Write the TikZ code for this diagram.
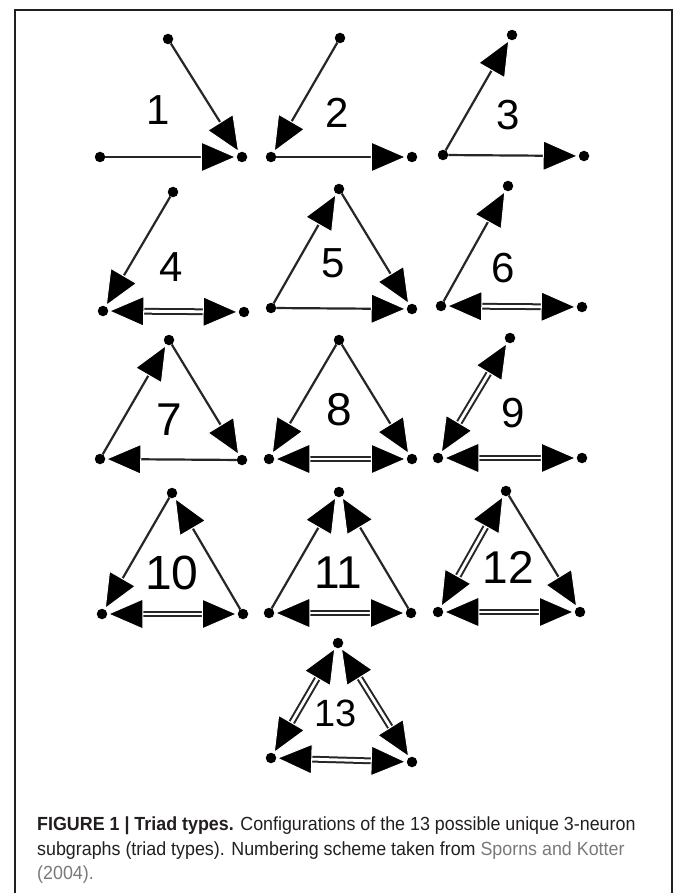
\documentclass[tikz,border=0pt]{standalone}
\usepackage{fontspec}
\usetikzlibrary{arrows.meta}
\setmainfont{Liberation Sans}
\newfontfamily\numfont{Liberation Sans}
\newfontfamily\capfont[FakeStretch=0.94]{Liberation Sans}
\definecolor{framecol}{HTML}{231F20}
\definecolor{linkgray}{HTML}{7A7A7A}
\tikzset{
  dotnode/.style={circle, fill=black, inner sep=0pt, minimum size=10.5pt, outer sep=0pt},
  lbl/.style={inner sep=0pt, text=black},
  >={Triangle[length=36pt,width=31pt,color=white,fill=black,line width=1pt]},
  sgl/.style={draw=black!85, line width=2.2pt},
  dblline/.style={draw=black!85, line width=2pt, double=white, double distance=2.8pt, shorten <=20pt, shorten >=20pt},
  tiponly/.style={draw=white, line width=0.2pt, <->},
  captext/.style={inner sep=0pt, anchor=base west, text=framecol, font=\capfont\fontsize{19}{23}\selectfont}
}
\newcommand{\triad}[7]{%
  \node[dotnode] (#1t) at (#2) {};
  \node[dotnode] (#1l) at (#3) {};
  \node[dotnode] (#1r) at (#4) {};
  \node[lbl, font=\numfont\fontsize{#7}{#7}\selectfont] (#1n) at (#5) {#6};
}
\newcommand{\one}[2]{\draw[sgl, ->] (#1) -- (#2);}
\newcommand{\two}[2]{\draw[dblline] (#1) -- (#2); \draw[tiponly] (#1) -- (#2);}
\begin{document}
\begin{tikzpicture}[x=1pt, y=-1pt]
\useasboundingbox (0,0) rectangle (673,893);
\fill[white] (0,0) rectangle (673,893);
\draw[line width=2pt, framecol] (15,894) -- (15,10) -- (672,10) -- (672,894);

% 1
\triad{a}{168,39}{100,157}{242,157}{158,110}{1}{42}
\one{at}{ar} \one{al}{ar}
% 2
\triad{b}{340,38}{271,157}{412,157}{337,113}{2}{42}
\one{bt}{bl} \one{bl}{br}
% 3
\triad{c}{512,35}{443,155}{584,156}{508,115}{3}{42}
\one{cl}{ct} \one{cl}{cr}
% 4
\triad{d}{173,192}{103,311}{244,312}{171,267}{4}{42}
\one{dt}{dl} \two{dl}{dr}
% 5
\triad{e}{339,189}{271,308}{412,309}{333,263}{5}{42}
\one{el}{et} \one{et}{er} \one{el}{er}
% 6
\triad{f}{508,186}{441,306}{582,307}{503,268}{6}{42}
\one{fl}{ft} \two{fl}{fr}
% 7
\triad{g}{169,340}{100,459}{242,460}{169,420}{7}{46}
\one{gl}{gt} \one{gt}{gr} \one{gr}{gl}
% 8
\triad{h}{339,340}{269,459}{412,459}{339,410}{8}{46}
\one{ht}{hl} \one{ht}{hr} \two{hl}{hr}
% 9
\triad{i}{510,338}{438,458}{582,458}{513,413}{9}{42}
\two{il}{it} \two{il}{ir}
% 10
\triad{j}{172,493}{102,614}{243,614}{172,573}{10}{48}
\one{jt}{jl} \one{jr}{jt} \two{jl}{jr}
% 11
\triad{k}{339,492}{269,613}{411,613}{338,573}{11}{46}
\one{kl}{kt} \one{kr}{kt} \two{kl}{kr}
% 12
\triad{m}{506,491}{438,612}{580,612}{508,567}{12}{46}
\two{mt}{ml} \one{mt}{mr} \two{ml}{mr}
% 13
\triad{p}{338,643}{271,758}{412,762}{336,713}{13}{38}
\two{pt}{pl} \two{pt}{pr} \two{pl}{pr}

% caption
\node[captext] (c1) at (37,830) {\textbf{FIGURE 1 | Triad types.} Configurations of the 13 possible unique 3-neuron};
\node[captext] (c2) at (37,855) {subgraphs (triad types). Numbering scheme taken from \textcolor{linkgray}{Sporns and Kotter}};
\node[captext] (c3) at (37,879) {\textcolor{linkgray}{(2004).}};
\end{tikzpicture}
\end{document}
